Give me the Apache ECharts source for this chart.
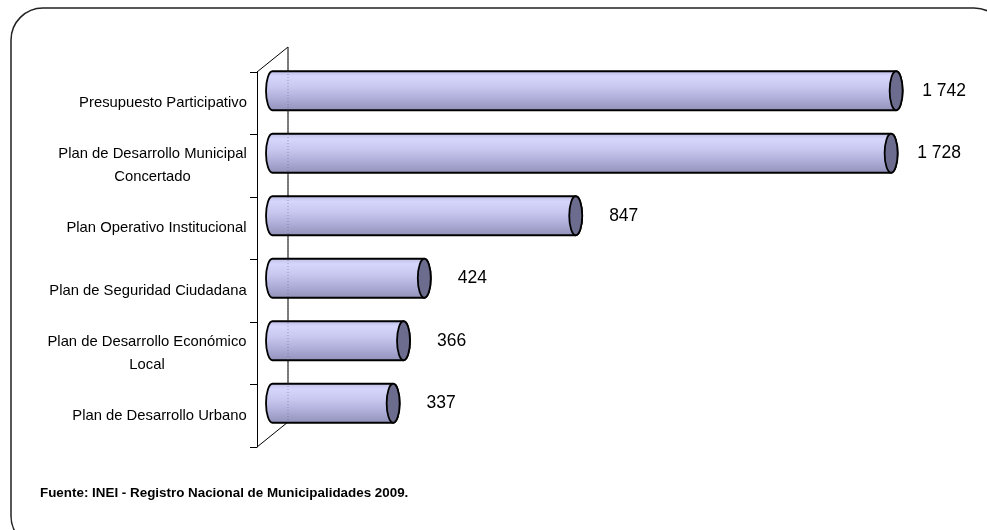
<!DOCTYPE html>
<html>
<head>
<meta charset="utf-8">
<script src="https://cdn.jsdelivr.net/npm/echarts@6/dist/echarts.min.js"></script>
<style>
html, body { margin: 0; padding: 0; background: #fff; }
#chart { width: 987px; height: 530px; }
</style>
</head>
<body>
<div id="chart"></div>
<script>
var categories = ['Presupuesto Participativo', 'Plan de Desarrollo Municipal\nConcertado', 'Plan Operativo Institucional',
    'Plan de Seguridad Ciudadana', 'Plan de Desarrollo Económico\nLocal', 'Plan de Desarrollo Urbano'];
var values = [1742, 1728, 847, 424, 366, 337];
var sourceText = 'Fuente: INEI - Registro Nacional de Municipalidades 2009.';

var FONT = '"Liberation Sans", Arial, sans-serif';
var LABEL_SIZE = 14.8;
var DX = 31, DY = -25; // 3d depth of the floor

// widths so that the lines of a two-line label are centred on each other
var ctx = document.createElement('canvas').getContext('2d');
ctx.font = LABEL_SIZE + 'px ' + FONT;
var rich = {};
categories.forEach(function (c, i) {
    var w = Math.max.apply(null, c.split('\n').map(function (s) { return ctx.measureText(s).width; }));
    rich['c' + i] = { width: Math.ceil(w), align: 'center', fontSize: LABEL_SIZE, fontFamily: FONT, color: '#000', lineHeight: 23 };
});

function fmt(v) {
    return String(v).replace(/\B(?=(\d{3})+(?!\d))/g, ' ');
}

var myChart = echarts.init(document.getElementById('chart'));

function renderBar(params, api) {
    var v = api.value(0), ci = api.value(1);
    var p0 = api.coord([0, ci]), p1 = api.coord([v, ci]);
    var x0 = p0[0] + DX / 2, x1 = p1[0] + DX / 2, yc = p0[1] + DY / 2;
    var r = 19.5, rx = 6.5;
    var yt = yc - r, yb = yc + r;
    var body = 'M' + x0 + ' ' + yt + ' L' + x1 + ' ' + yt +
        ' A' + rx + ' ' + r + ' 0 0 1 ' + x1 + ' ' + yb +
        ' L' + x0 + ' ' + yb +
        ' A' + rx + ' ' + r + ' 0 0 1 ' + x0 + ' ' + yt + ' Z';
    return {
        type: 'group',
        children: [{
            type: 'path',
            shape: { pathData: body },
            style: {
                fill: new echarts.graphic.LinearGradient(0, 0, 0, 1, [
                    { offset: 0, color: '#bcbce4' },
                    { offset: 0.15, color: '#d6d6fc' },
                    { offset: 0.4, color: '#c8c8f0' },
                    { offset: 0.7, color: '#adadd8' },
                    { offset: 1, color: '#9090b8' }
                ]),
                stroke: '#000',
                lineWidth: 1.8
            }
        }, {
            type: 'ellipse',
            shape: { cx: x1, cy: yc, rx: rx, ry: r },
            style: { fill: '#6c6c8e', stroke: '#000', lineWidth: 1.8 }
        }, {
            type: 'text',
            style: {
                text: fmt(v),
                x: x1 + 48,
                y: yc,
                align: 'center',
                verticalAlign: 'middle',
                fill: '#000',
                font: '17.5px ' + FONT
            }
        }]
    };
}

function renderWall(params, api) {
    var cs = params.coordSys;
    var x = cs.x, y = cs.y, h = cs.height;
    return {
        type: 'polyline',
        shape: { points: [[x, y], [x + DX, y + DY], [x + DX, y + h + DY], [x, y + h]] },
        style: { fill: 'none', stroke: '#000', lineWidth: 1 }
    };
}

function renderWallDots(params, api) {
    var cs = params.coordSys;
    var x = cs.x + DX, y = cs.y + DY, h = cs.height;
    return {
        type: 'line',
        shape: { x1: x, y1: y, x2: x, y2: y + h },
        style: { stroke: 'rgba(80,80,120,0.45)', lineWidth: 1, lineDash: [1, 2] }
    };
}

var option = {
    backgroundColor: '#fff',
    animation: false,
    grid: { left: 257, right: 14, top: 72, bottom: 83 },
    xAxis: { type: 'value', min: 0, max: 2000, show: false },
    yAxis: {
        type: 'category',
        inverse: true,
        data: categories,
        axisLine: { show: true, lineStyle: { color: '#000', width: 1 } },
        axisTick: { show: true, length: 7, inside: false, alignWithLabel: false, lineStyle: { color: '#000', width: 1 } },
        axisLabel: {
            margin: 10,
            formatter: function (value, index) {
                return value.split('\n').map(function (s) { return '{c' + index + '|' + s + '}'; }).join('\n');
            },
            rich: rich
        },
        splitLine: { show: false }
    },
    graphic: [{
        type: 'rect',
        shape: { x: 11, y: 8, width: 995, height: 540, r: 32 },
        style: { fill: 'none', stroke: '#222', lineWidth: 1.5 },
        silent: true
    }, {
        type: 'text',
        left: 40,
        top: 487,
        style: { text: sourceText, font: 'bold 13.4px ' + FONT, fill: '#000' }
    }],
    series: [{
        type: 'custom',
        renderItem: renderWall,
        data: [[0, 0]],
        z: 1,
        silent: true
    }, {
        name: 'Municipalidades',
        type: 'custom',
        renderItem: renderBar,
        encode: { x: 0, y: 1 },
        data: values.map(function (v, i) { return [v, i]; }),
        z: 2
    }, {
        type: 'custom',
        renderItem: renderWallDots,
        data: [[0, 0]],
        z: 3,
        silent: true
    }]
};

myChart.setOption(option);
window.addEventListener('resize', function () { myChart.resize(); });
</script>
</body>
</html>
